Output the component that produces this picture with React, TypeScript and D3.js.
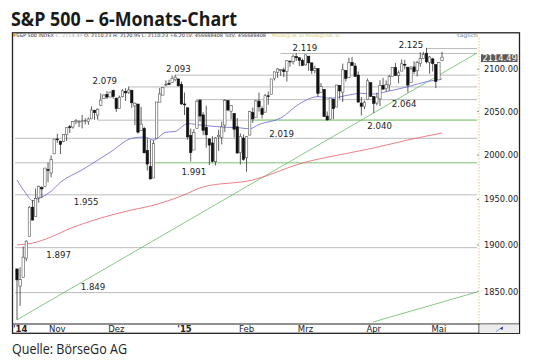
import * as d3 from "d3";

// S&P 500 daily candles, 15.10.2014 – 04.05.2015
const dates = [
  "2014-10-15","2014-10-16","2014-10-17","2014-10-20","2014-10-21","2014-10-22","2014-10-23","2014-10-24","2014-10-27","2014-10-28",
  "2014-10-29","2014-10-30","2014-10-31","2014-11-03","2014-11-04","2014-11-05","2014-11-06","2014-11-07","2014-11-10","2014-11-11",
  "2014-11-12","2014-11-13","2014-11-14","2014-11-17","2014-11-18","2014-11-19","2014-11-20","2014-11-21","2014-11-24","2014-11-25",
  "2014-11-26","2014-11-28","2014-12-01","2014-12-02","2014-12-03","2014-12-04","2014-12-05","2014-12-08","2014-12-09","2014-12-10",
  "2014-12-11","2014-12-12","2014-12-15","2014-12-16","2014-12-17","2014-12-18","2014-12-19","2014-12-22","2014-12-23","2014-12-24",
  "2014-12-26","2014-12-29","2014-12-30","2014-12-31","2015-01-02","2015-01-05","2015-01-06","2015-01-07","2015-01-08","2015-01-09",
  "2015-01-12","2015-01-13","2015-01-14","2015-01-15","2015-01-16","2015-01-20","2015-01-21","2015-01-22","2015-01-23","2015-01-26",
  "2015-01-27","2015-01-28","2015-01-29","2015-01-30","2015-02-02","2015-02-03","2015-02-04","2015-02-05","2015-02-06","2015-02-09",
  "2015-02-10","2015-02-11","2015-02-12","2015-02-13","2015-02-17","2015-02-18","2015-02-19","2015-02-20","2015-02-23","2015-02-24",
  "2015-02-25","2015-02-26","2015-02-27","2015-03-02","2015-03-03","2015-03-04","2015-03-05","2015-03-06","2015-03-09","2015-03-10",
  "2015-03-11","2015-03-12","2015-03-13","2015-03-16","2015-03-17","2015-03-18","2015-03-19","2015-03-20","2015-03-23","2015-03-24",
  "2015-03-25","2015-03-26","2015-03-27","2015-03-30","2015-03-31","2015-04-01","2015-04-02","2015-04-06","2015-04-07","2015-04-08",
  "2015-04-09","2015-04-10","2015-04-13","2015-04-14","2015-04-15","2015-04-16","2015-04-17","2015-04-20","2015-04-21","2015-04-22",
  "2015-04-23","2015-04-24","2015-04-27","2015-04-28","2015-04-29","2015-04-30","2015-05-01","2015-05-04",
];

const opens = [
  1874.18,1855.95,1864.91,1885.62,1909.38,1941.29,1931.02,1951.59,1962.97,1964.14,
  1983.29,1979.49,2001.2,2018.21,2015.81,2015.29,2023.33,2032.36,2032.01,2038.2,
  2037.75,2039.21,2039.74,2038.29,2041.48,2051.16,2045.87,2057.46,2065.07,2070.15,
  2067.03,2074.78,2065.78,2053.77,2067.45,2073.64,2072.78,2074.84,2056.55,2058.86,
  2027.92,2030.36,2005.03,1986.71,1973.77,2018.98,2061.04,2069.28,2081.48,2083.25,
  2084.3,2087.63,2088.49,2082.11,2058.9,2054.44,2022.15,2005.55,2030.61,2063.45,
  2046.13,2031.58,2018.4,2013.75,1992.25,2020.76,2020.19,2034.3,2062.98,2050.42,
  2047.86,2032.34,2002.45,2019.35,1996.67,2022.71,2048.86,2043.45,2062.28,2053.47,
  2049.38,2068.55,2069.98,2088.78,2096.47,2099.16,2099.25,2097.65,2109.83,2109.1,
  2115.3,2113.91,2110.88,2105.23,2115.76,2107.72,2098.54,2100.91,2072.25,2076.14,
  2044.69,2041.1,2064.56,2055.35,2080.59,2072.84,2098.69,2090.32,2107.99,2103.94,
  2093.1,2059.94,2055.78,2064.11,2084.05,2067.63,2060.03,2064.87,2080.79,2076.94,
  2081.29,2091.51,2102.03,2092.28,2097.82,2105.96,2102.58,2084.11,2102.82,2098.27,
  2107.21,2112.8,2119.29,2108.35,2112.49,2105.52,2087.38,2110.23,
];

const highs = [
  1874.18,1876.01,1898.16,1905.03,1942.45,1949.31,1961.95,1965.27,1964.64,1985.05,
  1991.4,1999.4,2018.19,2024.46,2015.98,2023.77,2031.61,2034.26,2038.7,2041.28,
  2040.33,2046.18,2042.22,2043.07,2056.08,2052.14,2053.84,2071.46,2070.17,2074.21,
  2073.4,2075.76,2065.78,2068.77,2076.28,2077.34,2079.47,2075.78,2060.6,2058.86,
  2055.53,2032.25,2018.69,2016.89,2016.75,2061.23,2077.85,2078.76,2086.73,2087.56,
  2092.7,2093.55,2088.49,2085.58,2072.36,2054.44,2030.25,2029.61,2064.08,2064.43,
  2049.3,2056.93,2018.4,2021.35,2020.46,2028.94,2038.29,2064.62,2062.98,2057.62,
  2047.86,2042.49,2024.64,2023.32,2021.66,2050.3,2054.74,2063.55,2072.4,2056.16,
  2070.86,2073.48,2088.53,2097.03,2101.3,2100.23,2102.13,2110.61,2110.05,2117.94,
  2119.59,2113.91,2112.74,2117.52,2115.76,2107.72,2104.25,2100.91,2083.49,2076.14,
  2050.08,2066.41,2064.56,2081.41,2080.59,2106.85,2098.69,2113.92,2114.86,2107.63,
  2097.43,2067.15,2062.83,2088.97,2084.05,2067.63,2072.17,2086.99,2089.81,2086.69,
  2093.31,2102.61,2107.65,2098.62,2111.91,2111.3,2102.58,2103.94,2109.64,2110.19,
  2120.49,2120.92,2125.92,2116.04,2113.65,2105.52,2108.41,2120.95,
];

const lows = [
  1820.66,1835.02,1864.91,1882.3,1909.38,1926.83,1931.02,1946.27,1951.37,1964.14,
  1969.04,1974.75,2001.2,2013.68,2001.01,2014.42,2015.86,2025.07,2030.17,2035.28,
  2031.95,2030.44,2035.2,2034.43,2041.48,2040.37,2040.49,2056.75,2065.07,2064.75,
  2066.96,2065.06,2049.57,2053.77,2066.65,2062.34,2070.81,2054.27,2034.17,2024.26,
  2027.92,2002.33,1982.26,1972.56,1973.77,2018.98,2061.03,2069.28,2079.77,2081.86,
  2084.3,2085.75,2079.53,2057.94,2046.04,2017.34,1992.44,2005.55,2030.61,2038.33,
  2022.58,2008.25,1988.44,1991.47,1988.12,2004.49,2012.04,2026.38,2050.54,2040.97,
  2019.91,2001.49,1989.18,1993.38,1980.9,2022.71,2036.72,2043.45,2049.97,2041.88,
  2048.62,2057.99,2069.98,2086.7,2089.8,2092.15,2090.79,2085.44,2103.0,2105.87,
  2109.89,2103.76,2103.75,2104.5,2098.26,2094.49,2095.22,2067.27,2072.21,2044.16,
  2039.69,2041.1,2041.17,2055.35,2065.08,2061.23,2085.56,2090.32,2104.42,2091.5,
  2061.05,2045.5,2052.96,2064.11,2067.04,2048.38,2057.32,2056.52,2076.1,2073.3,
  2074.29,2091.51,2092.33,2083.24,2097.82,2100.02,2072.37,2084.11,2094.38,2091.49,
  2103.19,2112.8,2107.04,2094.89,2097.41,2077.59,2087.38,2110.23,
];

const closes = [
  1862.49,1862.76,1886.76,1904.01,1941.28,1927.11,1950.82,1964.58,1961.63,1985.05,
  1982.3,1994.65,2018.05,2017.81,2012.1,2023.57,2031.21,2031.92,2038.26,2039.68,
  2038.25,2039.33,2039.82,2041.32,2051.8,2048.72,2052.75,2063.5,2069.41,2067.03,
  2072.83,2067.56,2053.44,2066.55,2074.33,2071.92,2075.37,2060.31,2059.82,2026.14,
  2035.33,2002.33,1989.63,1972.74,2012.89,2061.23,2070.65,2078.54,2082.17,2081.88,
  2088.77,2090.57,2080.35,2058.9,2058.2,2020.58,2002.61,2025.9,2062.14,2044.81,
  2028.26,2023.03,2011.27,1992.67,2019.42,2022.55,2032.12,2063.15,2051.82,2057.09,
  2029.55,2002.16,2021.25,1994.99,2020.85,2050.03,2041.51,2062.52,2055.47,2046.74,
  2068.59,2068.53,2088.48,2096.99,2100.34,2099.68,2097.45,2110.3,2109.66,2115.48,
  2113.86,2110.74,2104.5,2117.39,2107.78,2098.53,2101.04,2071.26,2079.43,2044.16,
  2040.24,2065.95,2053.4,2081.19,2074.28,2099.5,2089.27,2108.1,2104.42,2091.5,
  2061.05,2056.15,2061.02,2086.24,2067.89,2059.69,2066.96,2080.62,2076.33,2081.9,
  2091.18,2102.06,2092.43,2095.84,2106.63,2104.99,2081.18,2100.4,2097.29,2107.96,
  2112.93,2117.69,2108.92,2114.76,2106.85,2085.51,2108.29,2114.49,
];

// moving averages (trading-day index, value)
const ma38Days = [0, 3, 5, 7, 11, 14, 21, 30, 37, 41, 44, 48, 51, 55, 60, 66, 72, 75, 78, 85, 91, 97, 101, 107, 111, 115, 119, 126, 132, 137];
const ma38Values = [1971.6, 1956, 1948.5, 1951, 1959, 1969, 1983, 2003, 2019, 2020.5, 2017, 2026, 2027, 2036, 2034, 2032, 2031, 2030, 2035, 2042.5, 2059, 2067.5, 2065.6, 2069.5, 2071.5, 2070.6, 2073.4, 2079.3, 2085.2, 2088.4];
const ma200Days = [0, 5, 11, 16, 27, 37, 43, 53, 60, 76, 92, 107, 115, 126, 137];
const ma200Values = [1900, 1902, 1908.6, 1916.3, 1929.3, 1938.2, 1942.6, 1953.7, 1963.8, 1971.6, 1990.8, 2002.2, 2007.9, 2017.1, 2025.1];

// trend lines (trading-day index, value)
const trendDays = [0, 148.3];
const trendValues = [1820.66, 2119.6];
const trend2Days = [114.8, 148.3];
const trend2Values = [1818.3, 1849.7];

// horizontal marks
const levelValues = [2125, 2119, 2093, 2079, 2064, 2040, 2019, 1991, 1955, 1897, 1849];
const levelLabels = ["2.125", "2.119", "2.093", "2.079", "2.064", "2.040", "2.019", "1.991", "1.955", "1.897", "1.849"];
const levelFromDay: (number | null)[] = [132, 85, 51, 36, 58, 26, null, null, null, null, null];
const levelGreenFrom: (number | null)[] = [null, null, null, null, null, 75, null, 44, null, null, null];

const priceTicks = [1850, 1900, 1950, 2000, 2050, 2100];
const monthLabels = ["'14", "Nov", "Dez", "'15", "Feb", "Mrz", "Apr", "Mai"];

const chartFont = "'DejaVu Sans', Verdana, sans-serif";

export default function App() {
  const plot = { left: 13, right: 479, top: 38, bottom: 324 };
  const lineEnd = 477;

  const x = d3.scaleLinear().domain([0, dates.length - 1]).range([17, 442]);
  const y = d3.scaleLog().domain([1850, 2100]).range([291.7, 69.3]);

  const curve = d3
    .line<[number, number]>()
    .x((d) => x(d[0]))
    .y((d) => y(d[1]))
    .curve(d3.curveMonotoneX);
  const straight = d3
    .line<[number, number]>()
    .x((d) => x(d[0]))
    .y((d) => y(d[1]));

  const ma38 = curve(ma38Days.map((d, i) => [d, ma38Values[i]]));
  const ma200 = curve(ma200Days.map((d, i) => [d, ma200Values[i]]));
  const trend = straight(trendDays.map((d, i) => [d, trendValues[i]]));
  const trend2 = straight(trend2Days.map((d, i) => [d, trend2Values[i]]));

  // first trading day of each month after the start
  const monthStarts = dates
    .map((d, i) => (i > 0 && d.slice(5, 7) !== dates[i - 1].slice(5, 7) ? i : -1))
    .filter((i) => i >= 0);

  // label placement for the horizontal marks: [day index, y offset from line]
  const labelPlace: [number, number][] = [
    [127, -1], [92.8, -2], [52, -3.5], [28.3, -3], [124.8, 7.5], [116.9, 8.5],
    [85.3, -1], [57, 12], [22.3, 10], [13.4, 10.5], [24.5, -2.5],
  ];

  const last = closes[closes.length - 1];

  return (
    <svg
      width={540}
      height={362}
      style={{ position: "absolute", left: 0, top: 0, background: "#fff" }}
    >
      <defs>
        <clipPath id="plotClip">
          <rect x={plot.left} y={plot.top} width={plot.right - plot.left} height={plot.bottom - plot.top} />
        </clipPath>
      </defs>

      <text
        x={11}
        y={26}
        fontFamily="'Open Sans', sans-serif"
        fontWeight={700}
        fontSize={19.5}
        fill="#1a1a1a"
        textLength={226}
        lengthAdjust="spacingAndGlyphs"
      >
        {"S&P 500 – 6-Monats-Chart"}
      </text>

      {/* frame */}
      <rect x={12.5} y={32.8} width={507} height={300.5} fill="#fff" stroke="#222" strokeWidth={1.3} />
      <rect x={13} y={33.5} width={2.5} height={3} fill="#e69a1c" />
      <text x={16} y={37.4} fontFamily={chartFont} fontSize={4.6} fill="#333" textLength={250} lengthAdjust="spacingAndGlyphs">
        S&amp;P 500 INDEX <tspan fill="#aaa">C: 2114.49</tspan> O: 2110.23 H: 2120.95 L: 2110.23 +6.20 LV: 456688408 TotV: 456688408
      </text>
      <text x={272} y={37.4} fontFamily={chartFont} fontSize={4.6} fill="#d9c96a" textLength={68} lengthAdjust="spacingAndGlyphs">
        MovAvg(38, 0) MovAvg(200, 0)
      </text>
      <text x={457} y={37.4} fontFamily={chartFont} fontSize={4.6} fill="#777" textLength={21} lengthAdjust="spacingAndGlyphs">
        täglich
      </text>

      {/* horizontal marks */}
      {levelValues.map((v, i) => {
        const from = levelFromDay[i];
        const x0 = from == null ? plot.left + 2 : x(from);
        const g = levelGreenFrom[i];
        const yy = y(v);
        return (
          <g key={v}>
            <line x1={x0} x2={g == null ? lineEnd : x(g)} y1={yy} y2={yy} stroke="#bbbbbb" strokeWidth={1} />
            {g != null && (
              <line x1={x(g)} x2={lineEnd} y1={yy} y2={yy} stroke="#a8d5a0" strokeWidth={1.6} />
            )}
          </g>
        );
      })}

      <g clipPath="url(#plotClip)">
        <path d={trend ?? ""} fill="none" stroke="#5cb85c" strokeWidth={0.75} />
        <path d={trend2 ?? ""} fill="none" stroke="#5cb85c" strokeWidth={0.75} />
        <path d={ma200 ?? ""} fill="none" stroke="#e55f68" strokeWidth={0.8} />
        <path d={ma38 ?? ""} fill="none" stroke="#6666d8" strokeWidth={0.8} />
      </g>

      {/* candles */}
      {dates.map((d, i) => {
        const up = closes[i] >= opens[i];
        const cx = x(i);
        const top = y(Math.max(opens[i], closes[i]));
        const bot = y(Math.min(opens[i], closes[i]));
        return (
          <g key={d}>
            <line x1={cx} x2={cx} y1={y(highs[i])} y2={y(lows[i])} stroke="#333" strokeWidth={0.8} />
            <rect
              x={cx - 1.2}
              y={top}
              width={2.4}
              height={Math.max(bot - top, 0.8)}
              fill={up ? "#fff" : "#111"}
              stroke={up ? "#555" : "#111"}
              strokeWidth={0.6}
            />
          </g>
        );
      })}

      {/* level labels */}
      {levelLabels.map((t, i) => (
        <text
          key={t}
          x={x(labelPlace[i][0])}
          y={y(levelValues[i]) + labelPlace[i][1]}
          textAnchor="middle"
          fontFamily={chartFont}
          fontSize={8.6}
          fill="#222"
        >
          {t}
        </text>
      ))}

      {/* price axis */}
      <line x1={plot.right} x2={plot.right} y1={plot.top} y2={plot.bottom} stroke="#e2cc7c" strokeWidth={1} strokeDasharray="1.5,1.5" />
      {priceTicks.map((v) => (
        <g key={v}>
          <line x1={plot.right - 2} x2={plot.right} y1={y(v)} y2={y(v)} stroke="#999" strokeWidth={1} />
          <text x={484} y={y(v) + 3} fontFamily={chartFont} fontSize={8.3} fill="#222">
            {d3.format(".2f")(v)}
          </text>
        </g>
      ))}
      <rect x={481} y={y(last) - 3} width={36.5} height={7.8} fill="#5a5a5a" />
      <text x={482.5} y={y(last) + 3.6} fontFamily={chartFont} fontSize={8.3} fill="#fff">
        {d3.format(".2f")(last)}
      </text>

      {/* time axis */}
      <line x1={12.5} x2={519.5} y1={plot.bottom} y2={plot.bottom} stroke="#222" strokeWidth={1} />
      <line x1={plot.right} x2={plot.right} y1={plot.bottom} y2={333.3} stroke="#222" strokeWidth={1} />
      <rect x={plot.right + 0.5} y={plot.bottom + 0.5} width={39.5} height={8.5} fill="#ececec" />
      <path d="M496,331.5 L502,327.5" stroke="#5a8fd0" strokeWidth={0.8} />
      <path d="M500,328.5 L503,326.5 L502.5,330 Z" fill="#1c2f8a" />
      {monthLabels.map((t, k) => {
        const yearMark = t.startsWith("'");
        const px = k === 0 ? 13 : x(monthStarts[k - 1]);
        return (
          <text
            key={t}
            x={px}
            y={332}
            textAnchor={k === 0 ? "start" : "middle"}
            fontFamily={chartFont}
            fontSize={8.5}
            fontWeight={yearMark ? 700 : 400}
            fill="#222"
          >
            {t}
          </text>
        );
      })}

      <text
        x={12}
        y={354}
        fontFamily="'Open Sans', sans-serif"
        fontSize={15}
        fill="#222"
        textLength={115}
        lengthAdjust="spacingAndGlyphs"
      >
        Quelle: BörseGo AG
      </text>
    </svg>
  );
}
